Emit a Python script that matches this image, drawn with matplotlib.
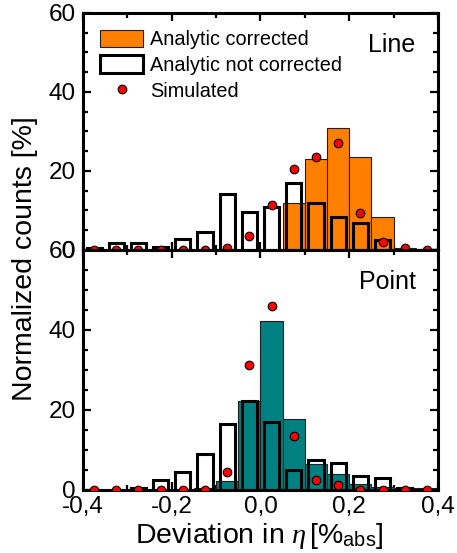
import numpy as np
import matplotlib
matplotlib.use("Agg")
import matplotlib.pyplot as plt
from matplotlib.ticker import MultipleLocator, FuncFormatter
from matplotlib.lines import Line2D
from matplotlib.patches import Patch

plt.rcParams['font.family'] = ['Liberation Sans', 'DejaVu Sans']
plt.rcParams['mathtext.fontset'] = 'custom'
plt.rcParams['mathtext.rm'] = 'Liberation Sans'
plt.rcParams['mathtext.it'] = 'Liberation Serif:italic'

##### data (bin centres, % counts) #####
centers = [-0.375, -0.325, -0.275, -0.225, -0.175, -0.125, -0.075, -0.025,
           0.025, 0.075, 0.125, 0.175, 0.225, 0.275, 0.325, 0.375]

line_corr = [0, 0, 0, 0, 0, 0, 0, 0, 0, 11.8, 23.0, 31.0, 23.6, 8.4, 0.5, 0.3]
line_nocorr = [0.4, 1.7, 1.7, 0.7, 2.8, 4.6, 14.2, 9.7, 10.8, 17.0, 12.0, 8.4, 6.9, 2.5, 0, 0]
line_sim = [0, 0, 0, 0, 0, 0, 0.4, 3.5, 11.4, 20.4, 23.6, 27.0, 9.3, 1.9, 0.4, 0]

pt_corr = [0, 0, 0, 0, 0, 0.4, 2.2, 22.1, 42.3, 17.7, 6.5, 4.0, 1.4, 0.6, 0.5, 0.3]
pt_nocorr = [0, 0, 0.3, 2.3, 4.3, 8.9, 16.3, 22.2, 16.8, 5.0, 7.5, 6.7, 3.4, 3.0, 0.3, 0]
pt_sim = [0, 0, 0, 0, 0, 0, 4.4, 31.2, 45.9, 13.5, 2.5, 1.2, 0, 0, 0, 0]

orange = '#FF8000'
teal = '#008080'

fig = plt.figure(figsize=(4.57, 5.53), dpi=100)
ax1 = fig.add_axes([0.1816, 0.548, 0.7768, 0.4285])
ax2 = fig.add_axes([0.1816, 0.1148, 0.7768, 0.4332])


def panel(ax, corr, nocorr, sim, col, name):
    # white fill first, coloured bars over it, black outlines on top
    ax.bar(centers, nocorr, width=0.034, color='white', edgecolor='none', zorder=1)
    ax.bar(centers, corr, width=0.05, color=col, edgecolor='#202020', linewidth=0.8, zorder=2)
    ax.bar(centers, nocorr, width=0.034, fill=False, edgecolor='black', linewidth=2.2, zorder=3)
    ax.plot(centers, sim, 'o', color='red', markeredgecolor='black', markeredgewidth=0.8,
            markersize=6.2, zorder=4)
    ax.set_xlim(-0.4, 0.4)
    ax.set_ylim(0, 60)
    ax.xaxis.set_major_locator(MultipleLocator(0.2))
    ax.xaxis.set_minor_locator(MultipleLocator(0.1))
    ax.yaxis.set_major_locator(MultipleLocator(20))
    ax.yaxis.set_minor_locator(MultipleLocator(5))
    ax.tick_params(which='both', direction='in', top=True, right=True, width=1.6,
                   labelsize=17.5, pad=5)
    ax.tick_params(which='major', length=6)
    ax.tick_params(which='minor', length=3.5)
    for s in ax.spines.values():
        s.set_linewidth(2.2)
    ax.text(0.937, 0.915, name, transform=ax.transAxes, ha='right', va='top', fontsize=18)


panel(ax1, line_corr, line_nocorr, line_sim, orange, 'Line')
panel(ax2, pt_corr, pt_nocorr, pt_sim, teal, 'Point')

ax1.tick_params(labelbottom=False)
ax2.xaxis.set_major_formatter(FuncFormatter(lambda v, p: f"{v:.1f}".replace('.', ',')))

handles = [Patch(facecolor=orange, edgecolor='#202020', linewidth=0.8),
           Patch(facecolor='white', edgecolor='black', linewidth=2.2),
           Line2D([], [], marker='o', linestyle='none', color='red',
                  markeredgecolor='black', markeredgewidth=0.8, markersize=6.2)]
ax1.legend(handles, ['Analytic corrected', 'Analytic not corrected', 'Simulated'],
           loc='upper left', bbox_to_anchor=(0.048, 0.93), frameon=False, fontsize=14.3,
           handlelength=2.17, handleheight=1.0, labelspacing=0.3, handletextpad=0.35,
           borderpad=0, borderaxespad=0)

fig.text(0.055, 0.532, 'Normalized counts [%]', rotation=90, ha='center', va='center',
         fontsize=20.5)
fig.text(0.568, 0.018, r'Deviation in $\eta\,$[%$_{\mathrm{abs}}$]', ha='center',
         va='baseline', fontsize=20.5)

fig.savefig('out.png', dpi=100)
